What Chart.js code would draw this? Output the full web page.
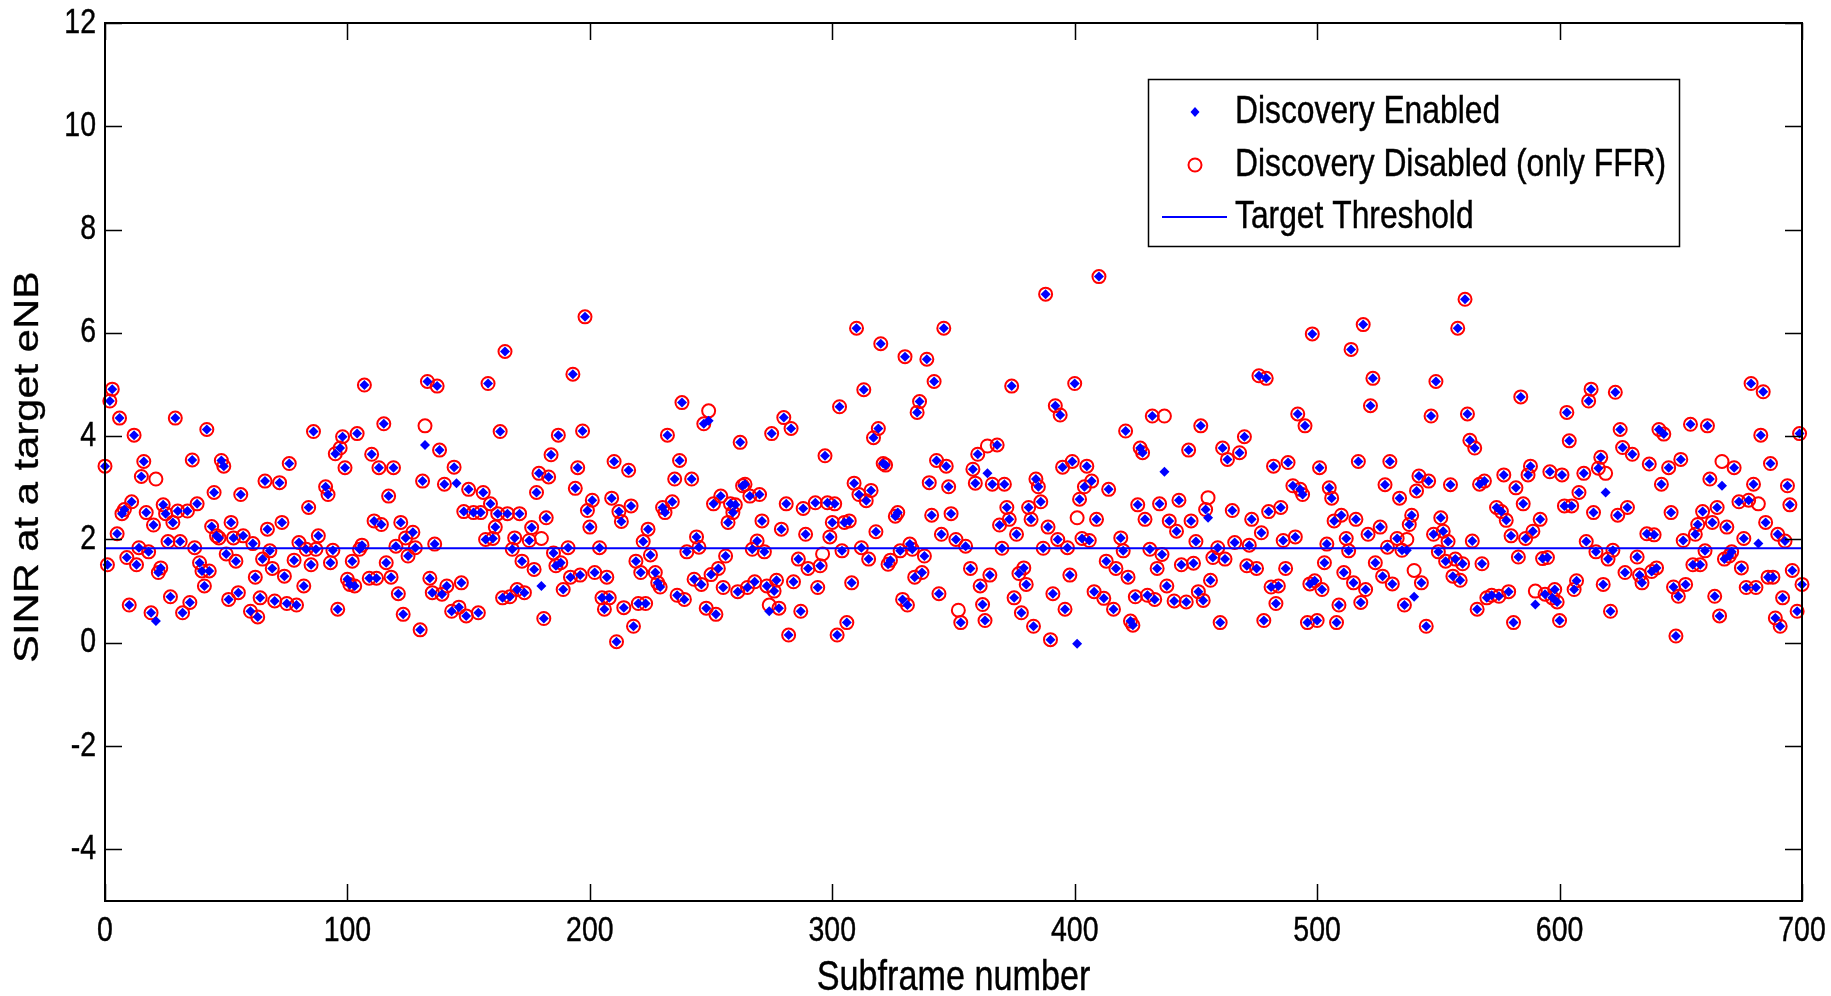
<!DOCTYPE html>
<html>
<head>
<meta charset="utf-8">
<script src="https://cdn.jsdelivr.net/npm/chart.js@4.4.0/dist/chart.umd.min.js"></script>
<style>
html,body{margin:0;padding:0;background:#fff;}
#wrap{width:1831px;height:996px;position:relative;}
</style>
</head>
<body>
<div id="wrap"><canvas id="c" width="1831" height="996"></canvas></div>
<script>
// ---- DATA ----
// SINR with discovery enabled, indexed by subframe number 0..700 (null = not readable / hidden)
const enabledSINR = [
3.42,1.51,4.68,4.91,null,2.11,4.35,2.50,2.58,1.65,
0.73,2.73,4.02,1.51,1.84,3.22,3.51,2.52,1.76,0.58,
2.28,0.42,1.36,1.45,2.67,2.50,1.96,0.89,2.33,4.35,
2.55,1.96,0.58,null,2.55,0.78,3.54,1.84,2.69,1.55,
1.39,1.10,4.13,1.39,2.25,2.91,2.07,2.03,3.53,3.42,
1.72,0.84,2.33,2.03,1.58,0.97,2.87,2.07,null,null,
0.61,1.92,1.27,0.50,0.87,1.62,3.13,2.20,1.78,1.44,
0.81,null,3.10,2.33,1.29,0.76,3.47,null,1.60,0.73,
1.94,null,1.10,1.81,2.62,1.51,4.09,1.81,2.07,null,
null,3.02,2.87,1.55,1.79,3.66,0.65,3.77,3.99,3.39,
1.23,1.13,1.58,1.10,4.05,1.81,1.89,4.99,null,1.25,
3.65,2.36,1.25,3.39,2.29,4.24,1.55,2.84,1.27,3.39,
1.87,0.95,2.33,0.55,2.03,1.68,null,2.14,1.84,null,
0.25,3.13,3.83,5.06,1.25,0.97,1.91,4.97,3.73,0.94,
3.07,1.10,null,0.61,3.40,3.09,0.69,1.16,2.54,0.52,
2.97,null,2.52,null,0.58,2.52,2.91,2.00,5.02,2.69,
2.02,2.24,2.50,4.09,0.87,5.64,2.50,0.89,1.81,2.03,
1.03,2.50,1.58,0.97,null,1.98,2.23,1.42,2.91,3.28,
1.10,0.47,2.42,3.21,3.64,1.74,1.49,4.02,1.55,1.03,
null,1.84,1.27,5.20,2.99,3.39,1.31,4.10,6.31,2.56,
2.24,2.76,1.36,null,1.84,0.87,0.65,1.27,0.87,2.80,
3.51,0.02,2.54,2.35,0.68,null,3.34,2.65,0.32,1.58,
0.76,1.36,1.96,0.76,2.20,1.70,null,1.36,1.16,1.08,
2.62,2.52,4.02,null,2.73,3.17,0.92,3.53,4.65,0.84,
1.76,null,3.17,1.23,2.05,1.85,1.13,4.24,0.67,4.30,
1.32,2.69,0.55,1.44,2.84,1.07,1.68,2.33,2.69,2.52,
2.67,0.99,3.88,3.04,3.07,1.07,2.84,1.81,1.18,1.97,
2.87,2.36,1.76,1.10,0.61,4.05,1.00,1.21,0.67,2.20,
4.36,2.69,0.15,4.15,1.18,null,1.62,0.61,2.60,2.10,
1.44,null,null,2.71,1.07,1.49,null,3.62,2.71,2.05,
2.33,2.69,0.15,4.57,1.78,2.33,0.39,2.36,1.16,3.09,
6.09,2.87,1.84,4.90,2.75,1.62,2.95,3.97,2.15,4.15,
5.79,3.47,3.44,1.52,1.60,null,2.45,2.52,1.78,0.84,
5.54,0.73,1.91,1.81,1.27,4.46,4.67,1.36,1.68,5.49,
3.10,2.47,5.06,3.53,0.95,2.10,6.09,3.42,3.02,2.50,
null,2.00,null,0.39,null,1.87,null,1.44,3.36,3.09,
3.65,1.10,0.74,0.43,3.28,1.31,3.07,null,3.83,2.28,
1.83,3.07,2.62,2.39,4.97,0.87,2.10,1.34,0.58,1.45,
1.13,2.62,2.39,0.32,3.17,3.02,2.73,1.83,6.75,2.24,
0.06,0.95,4.59,2.00,4.41,3.40,0.65,1.84,1.31,3.51,
5.02,-0.02,2.78,2.02,3.02,3.42,1.98,3.13,0.99,2.39,
7.09,null,0.86,1.58,2.97,null,0.65,1.44,null,2.03,
1.78,4.10,1.27,0.42,0.34,0.89,2.67,3.77,3.68,2.39,
0.92,1.81,4.39,0.84,1.44,2.69,1.71,3.31,1.10,2.36,
null,0.81,2.16,2.76,1.51,null,0.79,3.73,2.36,1.54,
1.96,0.99,4.20,0.82,2.58,2.42,1.21,1.65,null,1.84,
0.39,3.77,1.62,3.55,null,2.56,1.94,null,3.68,null,
3.99,1.49,1.89,2.39,null,1.44,5.17,2.13,0.43,5.12,
2.54,1.08,3.42,0.76,1.10,2.62,1.98,1.44,3.49,null,
3.04,2.05,4.43,2.97,2.87,4.20,0.39,1.14,5.98,1.20,
0.43,3.39,1.03,1.55,1.91,3.00,2.80,2.36,0.39,0.73,
2.47,1.36,2.02,1.78,5.68,1.16,2.39,3.51,0.78,6.16,
1.03,2.10,4.59,5.12,1.55,null,2.24,1.29,3.06,1.85,
3.51,1.14,null,2.02,2.80,1.79,0.73,1.79,2.29,2.47,
0.89,2.94,3.23,1.16,null,0.32,3.13,4.39,2.10,5.06,
1.76,2.42,2.16,1.58,1.96,3.06,1.29,1.62,6.09,1.21,
1.53,6.65,4.43,3.92,1.97,3.77,0.65,3.07,1.53,3.13,
0.87,null,0.92,null,2.62,0.90,2.54,3.25,2.37,0.99,
2.07,0.39,3.00,1.66,4.76,2.69,2.02,3.25,3.42,2.16,
0.74,null,2.39,1.63,0.94,1.65,3.31,0.87,1.03,0.79,
0.43,3.25,2.65,4.46,3.91,2.65,1.03,1.20,2.91,null,
3.28,1.96,4.68,4.91,2.52,1.76,3.38,3.59,1.13,2.91,
1.62,0.61,1.79,4.85,2.47,4.13,3.78,1.36,2.62,null,
3.65,null,1.66,1.31,1.16,null,2.11,3.46,1.38,2.09,
1.45,4.13,3.07,4.04,null,3.39,2.52,1.08,0.13,0.90,
3.55,1.98,1.13,null,4.23,1.51,2.10,2.29,1.51,2.54,
1.78,4.20,3.17,2.33,0.90,2.62,0.52,3.04,1.62,2.24,
1.68,1.76,3.39,null,2.73,1.45,2.02,1.07,2.76,5.02,
3.07,1.07,1.92,4.02,4.86,2.33,1.27,3.47,1.27,0.48,
2.10,0.32,0.87,1.97,3.04,2.67,1.40,null,0.61,4.05,
1.13
];
// Subframes where the "Discovery Disabled (only FFR)" value differs from the enabled one
const disabledDiffSubframes = [21,132,145,180,249,274,296,352,364,401,437,455,537,540,590,619,667,682];
const disabledDiffValues    = [3.17,4.20,null,2.02,4.49,0.73,1.72,0.63,3.81,2.42,4.39,2.81,2.00,1.40,1.00,3.28,3.51,2.69];
const thresholdSINR = 1.83;
const xTickValues = [0,100,200,300,400,500,600,700];
const yTickValues = [-4,-2,0,2,4,6,8,10,12];
const seriesNames = ['Discovery Enabled','Discovery Disabled (only FFR)','Target Threshold'];
const xTitle = 'Subframe number';
const yTitle = 'SINR at a target eNB';

// ---- build datasets ----
const subframes = enabledSINR.map((_, i) => i);
const disabledSINR = enabledSINR.slice();
disabledDiffSubframes.forEach((sf, k) => { disabledSINR[sf] = disabledDiffValues[k]; });
const toPts = arr => subframes.map((sf, i) => ({x: sf, y: arr[i]})).filter(p => p.y !== null);

const FONT = '"Liberation Sans", Arial, Helvetica, sans-serif';
const SY = 1.22; // vertical stretch of the original bitmap text

function sText(ctx, txt, x, y, size, align, rotate) {
  ctx.save();
  ctx.translate(x, y);
  if (rotate) { ctx.rotate(-Math.PI / 2); ctx.scale(SY, 1); }
  else { ctx.scale(1, SY); }
  ctx.font = size + 'px ' + FONT;
  ctx.fillStyle = '#000';
  ctx.strokeStyle = '#000';
  ctx.lineWidth = 0.35;
  ctx.textAlign = align;
  ctx.textBaseline = 'middle';
  ctx.fillText(txt, 0, 0);
  ctx.strokeText(txt, 0, 0);
  ctx.restore();
}

const framePlugin = {
  id: 'frame',
  afterDraw(chart) {
    const ctx = chart.ctx, a = chart.chartArea;
    const xs = chart.scales.x, ys = chart.scales.y;
    ctx.save();
    // box
    ctx.strokeStyle = '#000';
    ctx.lineWidth = 2;
    ctx.strokeRect(a.left, a.top, a.right - a.left, a.bottom - a.top);
    // inward ticks
    const TL = 17;
    ctx.lineWidth = 1.5;
    ctx.beginPath();
    yTickValues.forEach(v => {
      const py = Math.round(ys.getPixelForValue(v)) + 0.5;
      ctx.moveTo(a.left, py); ctx.lineTo(a.left + TL, py);
      ctx.moveTo(a.right, py); ctx.lineTo(a.right - TL, py);
    });
    xTickValues.forEach(v => {
      const px = Math.round(xs.getPixelForValue(v)) + 0.5;
      ctx.moveTo(px, a.bottom); ctx.lineTo(px, a.bottom - TL);
      ctx.moveTo(px, a.top); ctx.lineTo(px, a.top + TL);
    });
    ctx.stroke();
    // tick labels
    yTickValues.forEach(v => sText(ctx, String(v), a.left - 9, ys.getPixelForValue(v), 28.5, 'right', false));
    xTickValues.forEach(v => sText(ctx, String(v), xs.getPixelForValue(v), 931, 28.5, 'center', false));
    // axis titles
    sText(ctx, xTitle, (a.left + a.right) / 2, 978, 34.2, 'center', false);
    sText(ctx, yTitle, 29, 467, 34.2, 'center', true);
    // legend
    const L = {x1: 1148, y1: 79, x2: 1679, y2: 246};
    ctx.fillStyle = '#fff';
    ctx.fillRect(L.x1, L.y1, L.x2 - L.x1, L.y2 - L.y1);
    ctx.strokeStyle = '#000';
    ctx.lineWidth = 1.5;
    ctx.strokeRect(L.x1 + 0.5, L.y1 + 0.5, L.x2 - L.x1, L.y2 - L.y1);
    const rows = [112, 165, 217];
    // diamond
    ctx.fillStyle = '#0000ff';
    ctx.beginPath();
    ctx.moveTo(1195, rows[0] - 5); ctx.lineTo(1199.5, rows[0]); ctx.lineTo(1195, rows[0] + 5); ctx.lineTo(1190.5, rows[0]);
    ctx.closePath(); ctx.fill();
    // circle
    ctx.strokeStyle = '#ff0000';
    ctx.lineWidth = 2;
    ctx.beginPath(); ctx.arc(1195, rows[1], 6.5, 0, Math.PI * 2); ctx.stroke();
    // line
    ctx.strokeStyle = '#0000ff';
    ctx.lineWidth = 2;
    ctx.beginPath(); ctx.moveTo(1162, rows[2]); ctx.lineTo(1227, rows[2]); ctx.stroke();
    seriesNames.forEach((n, i) => sText(ctx, n, 1235, rows[i], 31.8, 'left', false));
    ctx.restore();
  }
};

new Chart(document.getElementById('c'), {
  type: 'scatter',
  data: {
    datasets: [
      {
        label: seriesNames[2],
        data: [{x: xTickValues[0], y: thresholdSINR}, {x: xTickValues[xTickValues.length - 1], y: thresholdSINR}],
        showLine: true, borderColor: '#0000ff', borderWidth: 2, pointRadius: 0, clip: false
      },
      {
        label: seriesNames[0],
        data: toPts(enabledSINR),
        pointStyle: 'rectRot', pointRadius: 5, pointBackgroundColor: '#0000ff',
        pointBorderColor: '#0000ff', pointBorderWidth: 0, showLine: false, clip: false
      },
      {
        label: seriesNames[1],
        data: toPts(disabledSINR),
        pointStyle: 'circle', pointRadius: 6.5, pointBackgroundColor: 'rgba(0,0,0,0)',
        pointBorderColor: '#ff0000', pointBorderWidth: 2, showLine: false, clip: false
      }
    ]
  },
  options: {
    responsive: false,
    animation: false,
    devicePixelRatio: 1,
    layout: {padding: {left: 105, right: 29, top: 23, bottom: 95}},
    plugins: {legend: {display: false}, tooltip: {enabled: false}},
    events: [],
    scales: {
      x: {type: 'linear', min: 0, max: 700, display: false},
      y: {type: 'linear', min: -5, max: 12, display: false}
    }
  },
  plugins: [framePlugin]
});
</script>
</body>
</html>
